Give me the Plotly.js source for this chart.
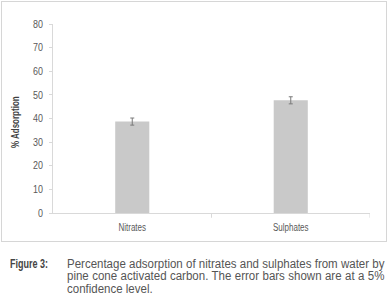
<!DOCTYPE html>
<html>
<head>
<meta charset="utf-8">
<script src="https://cdn.plot.ly/plotly-3.0.1.min.js"></script>
<style>
  html, body { margin: 0; padding: 0; background: #fff; }
  #wrap { position: relative; width: 388px; height: 303px; overflow: hidden; }
  #chart { position: absolute; left: 0; top: 0; width: 388px; height: 303px; }
  #box { position: absolute; left: 1px; top: 1px; width: 384px; height: 239px; border: 1px solid #d6d6d6; pointer-events: none; }
  .cap { position: absolute; font-family: "Liberation Sans", Arial, sans-serif; font-size: 12.5px; line-height: 12.5px; color: #555; transform-origin: 0 0; }
  #figlab { left: 10px; top: 257.5px; font-weight: bold; color: #444; white-space: nowrap; }
  #captext { left: 67px; top: 257.5px; }
  #captext .ln { display: block; text-align: justify; text-align-last: justify; white-space: normal; }
  #captext .ln.last { text-align-last: left; }
  .measure { white-space: nowrap; }
</style>
</head>
<body>
<div id="wrap">
  <div id="chart"></div>
  <div id="box"></div>
  <div id="figlab" class="cap">Figure 3:</div>
  <div id="captext" class="cap"></div>
</div>
<script>
const categories = ["Nitrates", "Sulphates"];
const adsorption = [38.7, 47.7];
const errors = [1.5, 1.5];
const yTicks = [0, 10, 20, 30, 40, 50, 60, 70, 80];
const yTitle = "% Adsorption";
const captionLines = [
  "Percentage adsorption of nitrates and sulphates from water by",
  "pine cone activated carbon. The error bars shown are at a 5%",
  "confidence level."
];

const font = "Liberation Sans, Arial, sans-serif";

// caption: narrow, justified text
(function () {
  const cap = document.getElementById("captext");
  const spans = captionLines.map(t => {
    const s = document.createElement("span");
    s.className = "measure";
    s.textContent = t;
    cap.appendChild(s);
    cap.appendChild(document.createElement("br"));
    return s;
  });
  const maxW = Math.max(...spans.map(s => s.getBoundingClientRect().width));
  cap.innerHTML = "";
  captionLines.forEach((t, i) => {
    const d = document.createElement("div");
    d.className = "ln" + (i === captionLines.length - 1 ? " last" : "");
    d.textContent = t;
    cap.appendChild(d);
  });
  const scale = 317 / maxW;
  cap.style.width = (maxW + 0.5) + "px";
  cap.style.transform = "scaleX(" + scale + ")";
  const fl = document.getElementById("figlab");
  const fw = fl.getBoundingClientRect().width;
  fl.style.transform = "scaleX(" + (38 / fw) + ")";
})();

const trace = {
  type: "bar",
  x: categories,
  y: adsorption,
  width: 0.215,
  marker: { color: "#c9c9c9", line: { width: 0 } },
  error_y: { type: "data", array: errors, visible: true, color: "#7a7a7a", thickness: 1, width: 2 },
  hoverinfo: "skip"
};

const layout = {
  width: 388, height: 303,
  margin: { l: 53, r: 18, t: 24, b: 90, pad: 0 },
  paper_bgcolor: "rgba(0,0,0,0)",
  plot_bgcolor: "rgba(0,0,0,0)",
  showlegend: false,
  font: { family: font, size: 10, color: "#595959" },
  xaxis: {
    type: "category",
    range: [-0.5, 1.5],
    showline: true, linecolor: "#d9d9d9", linewidth: 1,
    ticks: "", showgrid: false, zeroline: false,
    ticklabelstandoff: 5,
    tickfont: { family: font, size: 10, color: "#595959" }
  },
  yaxis: {
    range: [0, 80],
    tickvals: yTicks,
    showline: true, linecolor: "#d9d9d9", linewidth: 1,
    ticks: "outside", ticklen: 3, tickcolor: "#d9d9d9",
    showgrid: false, zeroline: false,
    ticklabelstandoff: 4,
    tickfont: { family: font, size: 10.5, color: "#595959" }
  },
  annotations: [
    { text: "<b>" + yTitle + "</b>", xref: "paper", yref: "paper", x: (15 - 53) / 317, y: (213 - 122.5) / 189,
      xanchor: "center", yanchor: "middle", textangle: -90, showarrow: false,
      font: { family: font, size: 10, color: "#404040" } }
  ],
  shapes: [
    { type: "line", xref: "x", yref: "paper", x0: 0.5, x1: 0.5, y0: 0, y1: -0.025, line: { color: "#d9d9d9", width: 1 } },
    { type: "line", xref: "x", yref: "paper", x0: 1.5, x1: 1.5, y0: 0, y1: -0.025, line: { color: "#d9d9d9", width: 1 } }
  ]
};

function narrow(sel, f) {
  document.querySelectorAll(sel).forEach(t => {
    const w = t.getComputedTextLength();
    if (w > 0) {
      t.setAttribute("textLength", (w * f).toFixed(2));
      t.setAttribute("lengthAdjust", "spacingAndGlyphs");
    }
  });
}

Plotly.newPlot("chart", [trace], layout, { staticPlot: true, displayModeBar: false }).then(() => {
  narrow("#chart .xtick text", 0.8);
  narrow("#chart .ytick text", 0.85);
  narrow("#chart .annotation-text", 0.8);
});
</script>
</body>
</html>
